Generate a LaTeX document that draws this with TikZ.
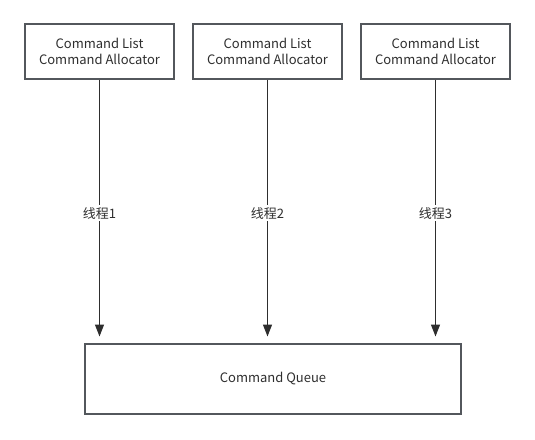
\documentclass[tikz,border=0pt]{standalone}
\usepackage{fontspec}
\setmainfont{Noto Sans CJK SC}
\usetikzlibrary{arrows.meta}
\definecolor{boxline}{HTML}{53575C}
\definecolor{txt}{HTML}{2E2E2E}
\tikzset{
  topbox/.style={draw=boxline, line width=1.4pt, minimum width=149pt, minimum height=55pt, inner sep=0pt, align=center, text=txt, font=\fontsize{13pt}{16pt}\selectfont},
  queuebox/.style={draw=boxline, line width=1.4pt, minimum width=376pt, minimum height=70pt, inner sep=0pt, text=txt, font=\fontsize{13pt}{16pt}\selectfont},
  conn/.style={draw=txt, line width=1.3pt, -{Triangle[length=12pt,width=9pt]}},
  lbl/.style={fill=white, text=txt, font=\fontsize{13pt}{16pt}\selectfont, inner sep=2pt}
}
\begin{document}
\begin{tikzpicture}[x=1pt,y=-1pt]
\useasboundingbox (0,0) rectangle (535,439);
\node[topbox] (b1) at (99.5,51.5) {\raisebox{-1pt}{\parbox{149pt}{\centering Command List\\Command Allocator}}};
\node[topbox] (b2) at (267.5,51.5) {\raisebox{-1pt}{\parbox{149pt}{\centering Command List\\Command Allocator}}};
\node[topbox] (b3) at (435.5,51.5) {\raisebox{-1pt}{\parbox{149pt}{\centering Command List\\Command Allocator}}};
\node[queuebox] (q) at (273,379) {\raisebox{-2pt}{Command Queue}};
\coordinate (e1) at (99.5,336.5);
\coordinate (e2) at (267.5,336.5);
\coordinate (e3) at (435.5,336.5);
\draw[conn] (b1.south) -- node[lbl, pos=0.52] {线程1} (e1);
\draw[conn] (b2.south) -- node[lbl, pos=0.52] {线程2} (e2);
\draw[conn] (b3.south) -- node[lbl, pos=0.52] {线程3} (e3);
\end{tikzpicture}
\end{document}
